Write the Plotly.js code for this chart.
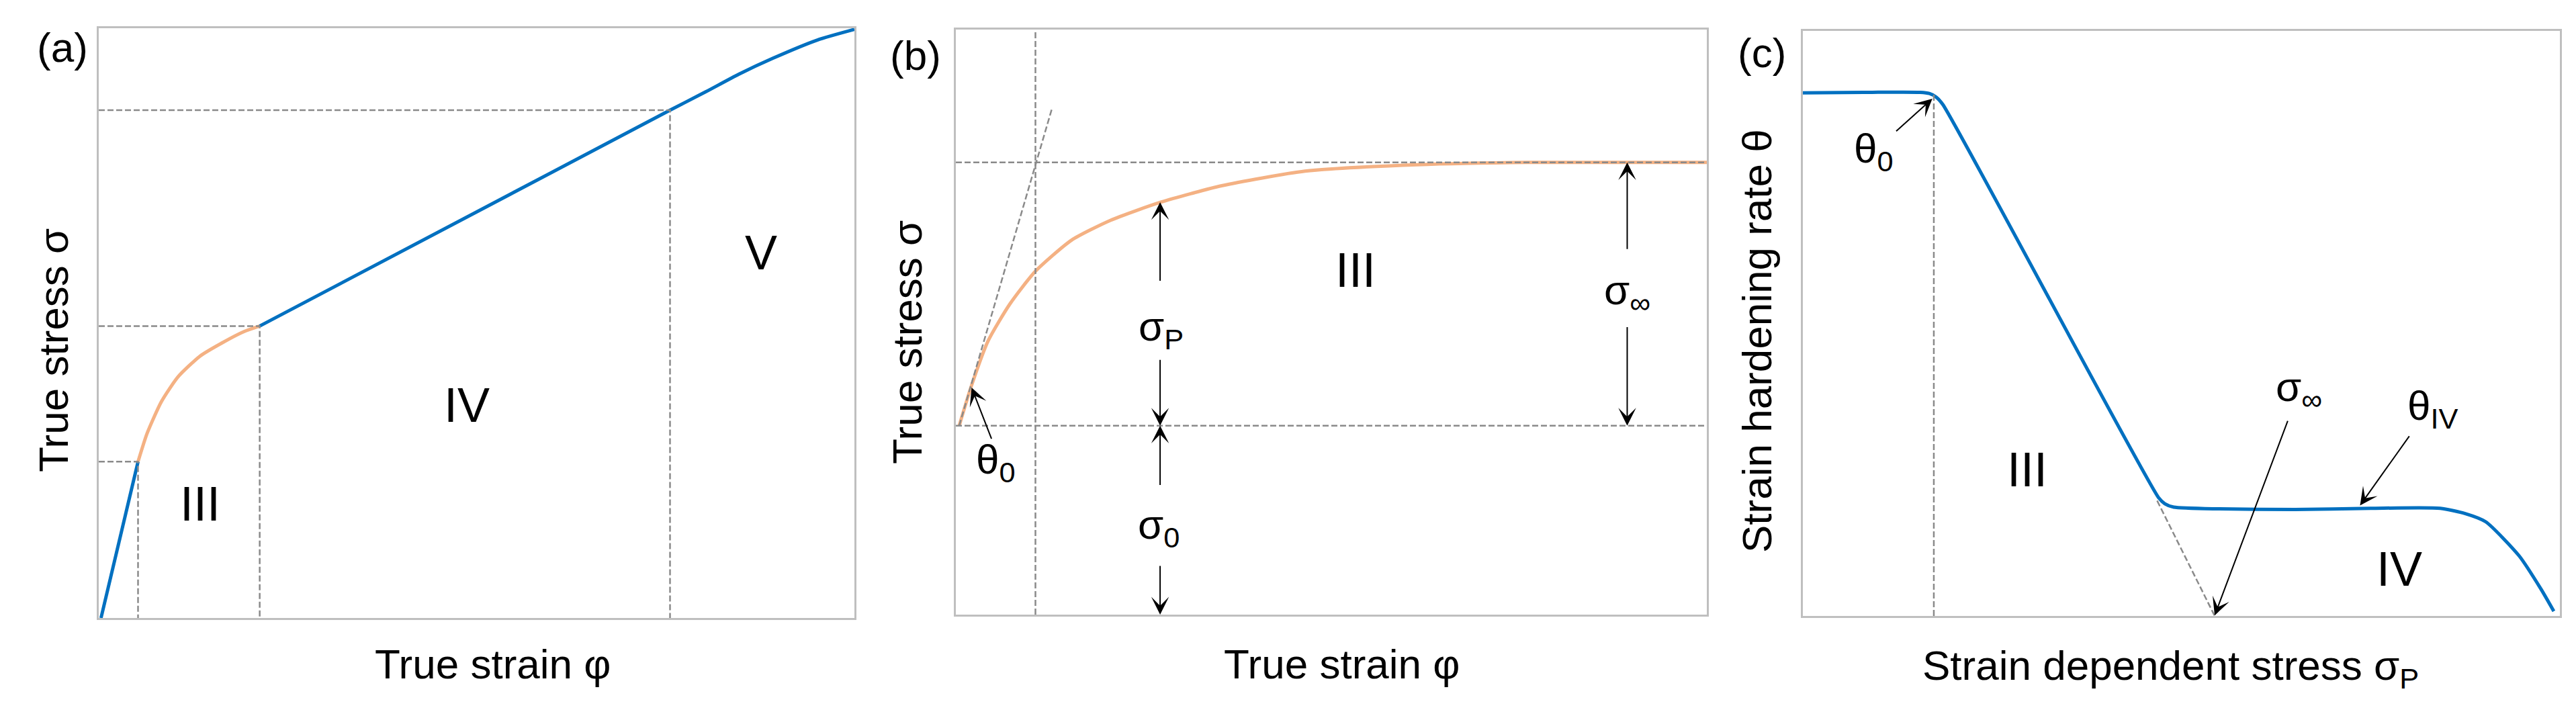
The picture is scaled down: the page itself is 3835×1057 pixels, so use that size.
<!DOCTYPE html>
<html>
<head>
<meta charset="utf-8">
<script src="https://cdn.plot.ly/plotly-3.0.1.min.js"></script>
<style>
    html, body { margin: 0; padding: 0; background: white; }
    #chart { width: 3835px; height: 1057px; }
</style>
</head>
<body>
<div id="chart"></div>
<script>
// (a) true stress vs true strain, stages II - V
const aElasticX = [0.3, 5.2];
const aElasticY = [0, 26.5];
const aStage3X = [5.2, 6.4, 8.3, 10.5, 13.4, 16.4, 19.3, 21.3];
const aStage3Y = [26.5, 31.3, 36.7, 40.9, 44.4, 46.7, 48.6, 49.5];
const aStage45X = [21.3, 75.6, 80.3, 84.7, 89.2, 95.1, 100];
const aStage45Y = [49.5, 86.1, 89.2, 92.2, 94.9, 98.0, 99.8];
const aBoundaryX = [5.2, 21.3, 75.6];
const aBoundaryY = [26.5, 49.5, 86.1];

// (b) stage III saturation curve
const bCurveX = [0.45, 2.1, 4.3, 7.2, 10.6, 15.4, 20.6, 27.3, 35.4, 46.5, 61.4, 76.2, 100];
const bCurveY = [32.3, 39.2, 46.8, 53.1, 58.7, 64.0, 67.4, 70.5, 73.3, 75.8, 76.9, 77.3, 77.3];
const bSigma0 = 32.3;
const bSigmaInf = 77.3;
const bTangentX = [0.45, 12.8];
const bTangentY = [32.3, 86.5];
const bTangentCut = 10.6;

// (c) strain hardening rate vs strain dependent stress
const cCurveX = [0, 8, 15.5, 16.7, 17.6, 18.5, 47.0, 47.8, 49.0, 55, 65, 75, 84.2, 87.5, 90.2, 94.6, 97.5, 99.2];
const cCurveY = [89.4, 89.5, 89.5, 89.3, 88.7, 87.4, 20.2, 19.2, 18.6, 18.3, 18.2, 18.4, 18.4, 17.5, 16.1, 10.3, 4.6, 0.8];
const cTheta0X = 17.3;
const cTheta0Y = 89.2;
const cExtrapX = [46.8, 54.4];
const cExtrapY = [19.7, 0];

const W = 3835, H = 1057;
const FONT = '"Liberation Sans", Arial, sans-serif';
const BLUE = '#0070c0';
const ORANGE = '#f4b183';
const GUIDE = { color: '#8a8a8a', width: 2.5, dash: '9px,4px' };

function curve(x, y, color, axis, shape) {
    return {
        type: 'scatter', mode: 'lines', x: x, y: y,
        xaxis: 'x' + axis, yaxis: 'y' + axis,
        line: { color: color, width: 5, shape: shape || 'linear', smoothing: 0.6 },
        hoverinfo: 'skip'
    };
}

function guide(x, y, axis) {
    return {
        type: 'scatter', mode: 'lines', x: x, y: y,
        xaxis: 'x' + axis, yaxis: 'y' + axis,
        line: GUIDE, hoverinfo: 'skip'
    };
}

const traces = [];

// panel (a)
traces.push(curve(aElasticX, aElasticY, BLUE, ''));
traces.push(curve(aStage3X, aStage3Y, ORANGE, '', 'spline'));
traces.push(curve(aStage45X, aStage45Y, BLUE, '', 'spline'));
aBoundaryX.forEach((bx, i) => {
    traces.push(guide([0, bx, bx], [aBoundaryY[i], aBoundaryY[i], 0], ''));
});

// panel (b)
traces.push(curve(bCurveX, bCurveY, ORANGE, '2', 'spline'));
traces.push(guide([0, 100], [bSigmaInf, bSigmaInf], '2'));
traces.push(guide([0, 100], [bSigma0, bSigma0], '2'));
traces.push(guide([bTangentCut, bTangentCut], [0, 100], '2'));
traces.push(guide(bTangentX, bTangentY, '2'));

// panel (c)
traces.push(curve(cCurveX, cCurveY, BLUE, '3', 'spline'));
traces.push(guide([cTheta0X, cTheta0X], [0, cTheta0Y], '3'));
traces.push(guide(cExtrapX, cExtrapY, '3'));

function frameAxis(domain, anchor) {
    return {
        domain: domain, anchor: anchor, range: [0, 100],
        showline: true, mirror: true, linecolor: '#bfbfbf', linewidth: 3,
        showgrid: false, zeroline: false, showticklabels: false, ticks: '',
        fixedrange: true
    };
}

// paper-position helpers (pixels of the 3835x1057 page)
const px = v => v / W;
const py = v => 1 - v / H;

function paperText(text, x, y, angle) {
    return {
        xref: 'paper', yref: 'paper', x: px(x), y: py(y),
        xanchor: 'center', yanchor: 'middle', showarrow: false,
        text: text, textangle: angle || 0,
        font: { family: FONT, size: 62, color: '#000' }
    };
}

function plotText(text, x, y, axis, size) {
    return {
        xref: 'x' + axis, yref: 'y' + axis, x: x, y: y,
        xanchor: 'center', yanchor: 'middle', showarrow: false,
        text: text, font: { family: FONT, size: size || 62, color: '#000' }
    };
}

// arrow from tail (ax, ay) to tip (x, y) in data units
function arrow(ax, ay, x, y, axis) {
    return {
        xref: 'x' + axis, yref: 'y' + axis, axref: 'x' + axis, ayref: 'y' + axis,
        x: x, y: y, ax: ax, ay: ay, text: '', showarrow: true,
        arrowhead: 3, arrowsize: 2.2, arrowwidth: 2, arrowcolor: '#000', standoff: 0
    };
}

const annotations = [
    // titles and panel letters
    paperText('(a)', 93, 71),
    paperText('(b)', 1363, 83),
    paperText('(c)', 2623, 78),
    paperText('True stress σ', 79, 522, -90),
    paperText('True strain φ', 733, 988),
    paperText('True stress σ', 1350, 510, -90),
    paperText('True strain φ', 1997, 988),
    paperText('Strain hardening rate θ', 2615, 508, -90),
    paperText('Strain dependent stress σ<sub>P</sub>', 3231, 995),

    // (a) stage labels
    plotText('III', 13.4, 19.4, '', 72),
    plotText('IV', 48.7, 36.1, '', 72),
    plotText('V', 87.6, 62.0, '', 72),

    // (b)
    plotText('III', 53.2, 58.9, '2', 72),
    plotText('σ<sub>P</sub>', 27.3, 48.8, '2'),
    plotText('σ<sub>0</sub>', 27.0, 14.9, '2'),
    plotText('σ<sub>∞</sub>', 89.4, 55.0, '2'),
    plotText('θ<sub>0</sub>', 5.3, 26.1, '2'),
    arrow(27.2, 56.9, 27.2, 70.5, '2'),
    arrow(27.2, 43.7, 27.2, bSigma0, '2'),
    arrow(27.2, 22.0, 27.2, bSigma0, '2'),
    arrow(27.2, 8.5, 27.2, 0, '2'),
    arrow(89.4, 62.3, 89.4, bSigmaInf, '2'),
    arrow(89.4, 49.3, 89.4, bSigma0, '2'),
    arrow(4.8, 29.9, 2.1, 38.8, '2'),

    // (c)
    plotText('III', 29.6, 25.0, '3', 72),
    plotText('IV', 78.8, 8.0, '3', 72),
    plotText('θ<sub>0</sub>', 9.4, 79.4, '3'),
    plotText('σ<sub>∞</sub>', 65.5, 38.7, '3'),
    plotText('θ<sub>IV</sub>', 83.2, 35.5, '3'),
    arrow(12.2, 82.7, 17.1, 88.4, '3'),
    arrow(64.1, 33.5, cExtrapX[1], 0.1, '3'),
    arrow(80.2, 30.9, 73.6, 18.9, '3')
];

const layout = {
    width: W,
    height: H,
    margin: { l: 0, r: 0, t: 0, b: 0 },
    showlegend: false,
    paper_bgcolor: 'white',
    plot_bgcolor: 'white',
    font: { family: FONT, color: '#000' },
    xaxis: frameAxis([px(147), px(1272)], 'y'),
    yaxis: frameAxis([1 - 920 / H, 1 - 42 / H], 'x'),
    xaxis2: frameAxis([px(1423), px(2541)], 'y2'),
    yaxis2: frameAxis([1 - 915 / H, 1 - 44 / H], 'x2'),
    xaxis3: frameAxis([px(2684), px(3811)], 'y3'),
    yaxis3: frameAxis([1 - 917 / H, 1 - 46 / H], 'x3'),
    annotations: annotations
};

const config = {
    responsive: false,
    displayModeBar: false,
    staticPlot: true
};

Plotly.newPlot('chart', traces, layout, config);
</script>
</body>
</html>
